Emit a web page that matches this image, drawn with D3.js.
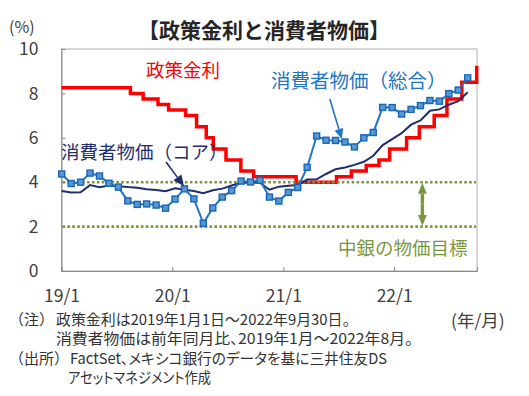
<!DOCTYPE html>
<html>
<head>
<meta charset="utf-8">
<script src="https://cdn.jsdelivr.net/npm/d3@7"></script>
<style>
  body { margin: 0; background: #fff; }
  svg { font-family: "Noto Sans CJK JP", "Noto Sans", sans-serif; }
  .palt { font-feature-settings: "palt"; }
</style>
</head>
<body>
<div class="container"></div>
<script>
// monthly CPI (YoY %), Jan 2019 - Aug 2022
const months = [
  '2019-01', '2019-02', '2019-03', '2019-04', '2019-05', '2019-06', '2019-07', '2019-08', '2019-09', '2019-10', '2019-11', '2019-12',
  '2020-01', '2020-02', '2020-03', '2020-04', '2020-05', '2020-06', '2020-07', '2020-08', '2020-09', '2020-10', '2020-11', '2020-12',
  '2021-01', '2021-02', '2021-03', '2021-04', '2021-05', '2021-06', '2021-07', '2021-08', '2021-09', '2021-10', '2021-11', '2021-12',
  '2022-01', '2022-02', '2022-03', '2022-04', '2022-05', '2022-06', '2022-07', '2022-08'
]
const cpiTotal = [
  4.37, 3.94, 4.00, 4.41, 4.28, 3.95, 3.78, 3.16, 3.00, 3.02, 2.97, 2.83,
  3.24, 3.70, 3.25, 2.15, 2.84, 3.33, 3.62, 4.05, 4.01, 4.09, 3.33, 3.15,
  3.54, 3.76, 4.67, 6.08, 5.89, 5.88, 5.81, 5.59, 6.00, 6.24, 7.37, 7.36,
  7.07, 7.28, 7.45, 7.68, 7.65, 7.99, 8.15, 8.70
]
const cpiCore = [
  3.60, 3.54, 3.55, 3.87, 3.77, 3.85, 3.82, 3.78, 3.75, 3.68, 3.65, 3.59,
  3.73, 3.66, 3.60, 3.50, 3.64, 3.71, 3.85, 3.97, 3.99, 3.98, 3.66, 3.80,
  3.84, 3.87, 4.12, 4.13, 4.37, 4.58, 4.66, 4.78, 4.92, 5.19, 5.67, 5.94,
  6.21, 6.59, 6.78, 7.22, 7.28, 7.49, 7.65, 8.05
]

// policy rate changes (effective date, %), through 2022-09-30
const rateDates = [
  '2019-01-01', '2019-08-16', '2019-09-27', '2019-11-15', '2019-12-20', '2020-02-14',
  '2020-03-21', '2020-04-22', '2020-05-15', '2020-06-26', '2020-08-14', '2020-09-25',
  '2021-02-12', '2021-06-25', '2021-08-13', '2021-10-01', '2021-11-12', '2021-12-17',
  '2022-02-11', '2022-03-25', '2022-05-13', '2022-06-24', '2022-08-12', '2022-09-30'
]
const rateValues = [
  8.25, 8.00, 7.75, 7.50, 7.25, 7.00,
  6.50, 6.00, 5.50, 5.00, 4.50, 4.25,
  4.00, 4.25, 4.50, 4.75, 5.00, 5.50,
  6.00, 6.50, 7.00, 7.75, 8.50, 9.25
]

const targetBand = [2, 4]
const yTicks = [0, 2, 4, 6, 8, 10]
const xTickDates = ['2019-01-01', '2020-01-01', '2021-01-01', '2022-01-01']

const w = 529
const h = 396
const padLeft = 61.5
const padRight = 477
const padTop = 49
const padBottom = 271

const parse = d3.timeParse('%Y-%m-%d')

const svg = d3.select('.container')
  .append('svg')
  .attr('width', w)
  .attr('height', h)

const x = d3.scaleTime()
  .domain([parse('2019-01-01'), parse('2022-10-01')])
  .range([padLeft, padRight])

// CPI points are spread evenly by month index
const xi = d3.scaleLinear()
  .domain([0, months.length - 1])
  .range([61.7, 467.7])

const y = d3.scaleLinear()
  .domain([0, 10])
  .range([padBottom, padTop])

// frame
svg.append('rect')
  .attr('x', padLeft)
  .attr('y', padTop)
  .attr('width', padRight - padLeft)
  .attr('height', padBottom - padTop)
  .attr('fill', 'none')
  .attr('stroke', '#b0b0b0')

const yAxis = svg.append('g')
  .attr('transform', `translate(${padLeft},0)`)
  .call(d3.axisLeft(y).tickValues(yTicks).tickSize(-4).tickPadding(23))
yAxis.select('.domain').attr('stroke', '#888')
yAxis.selectAll('line').attr('stroke', '#888')
yAxis.selectAll('text')
  .attr('font-size', 17.5)
  .attr('fill', '#404040')
  .attr('font-family', '"Noto Sans CJK JP", sans-serif')

const xAxis = svg.append('g')
  .attr('transform', `translate(0,${padBottom})`)
  .call(d3.axisBottom(x)
    .tickValues(xTickDates.map(parse))
    .tickFormat(d3.timeFormat('%y/%-m'))
    .tickSize(-4)
    .tickPadding(19))
xAxis.select('.domain').attr('stroke', '#888')
xAxis.selectAll('line').attr('stroke', '#888')
xAxis.selectAll('text')
  .attr('font-size', 17.5)
  .attr('fill', '#404040')
  .attr('font-family', '"Noto Sans CJK JP", sans-serif')

// policy rate
const rateLine = d3.line()
  .x((d, i) => x(parse(rateDates[i])))
  .y(d => y(d))
  .curve(d3.curveStepAfter)

svg.append('path')
  .datum(rateValues)
  .attr('d', rateLine)
  .attr('fill', 'none')
  .attr('stroke', '#ff0000')
  .attr('stroke-width', 3.5)

// central bank target band
svg.selectAll('.band')
  .data(targetBand)
  .enter()
  .append('line')
  .attr('class', 'band')
  .attr('x1', padLeft + 1)
  .attr('x2', padRight - 1)
  .attr('y1', d => y(d))
  .attr('y2', d => y(d))
  .attr('stroke', '#7a963e')
  .attr('stroke-width', 2.6)
  .attr('stroke-dasharray', '2.6 2.3')

// core CPI
svg.append('path')
  .datum(cpiCore)
  .attr('d', d3.line().x((d, i) => xi(i)).y(d => y(d)))
  .attr('fill', 'none')
  .attr('stroke', '#1f2d6b')
  .attr('stroke-width', 2)

// headline CPI
svg.append('path')
  .datum(cpiTotal)
  .attr('d', d3.line().x((d, i) => xi(i)).y(d => y(d)))
  .attr('fill', 'none')
  .attr('stroke', '#2374c2')
  .attr('stroke-width', 2)

svg.selectAll('.mk')
  .data(cpiTotal)
  .enter()
  .append('rect')
  .attr('class', 'mk')
  .attr('x', (d, i) => xi(i) - 3)
  .attr('y', d => y(d) - 3)
  .attr('width', 6)
  .attr('height', 6)
  .attr('fill', '#5797d6')
  .attr('stroke', '#1766b4')
  .attr('stroke-width', 1.4)

// arrows
function arrow(x1, y1, x2, y2, color, width, headLen, headHalf) {
  const a = Math.atan2(y2 - y1, x2 - x1)
  const bx = x2 - headLen * Math.cos(a)
  const by = y2 - headLen * Math.sin(a)
  svg.append('line')
    .attr('x1', x1).attr('y1', y1)
    .attr('x2', bx).attr('y2', by)
    .attr('stroke', color)
    .attr('stroke-width', width)
  const px = -Math.sin(a) * headHalf
  const py = Math.cos(a) * headHalf
  svg.append('path')
    .attr('d', `M${x2},${y2}L${bx + px},${by + py}L${bx - px},${by - py}Z`)
    .attr('fill', color)
}

arrow(xi(11.05), y(4.91), xi(12.95), y(3.82), '#1f2d6b', 1.6, 11, 5)
arrow(xi(28.4), y(7.75), xi(29.66), y(5.95), '#2374c2', 1.6, 10, 4.5)

const gx = x(parse('2022-04-04'))
arrow(gx, y(3), gx, y(targetBand[1]) + 0.5, '#7a963e', 3.4, 11, 4.4)
arrow(gx, y(3), gx, y(targetBand[0]) - 0.5, '#7a963e', 3.4, 11, 4.4)

// series labels
const label = (t, lx, ly, color, size) => svg.append('text')
  .text(t)
  .attr('x', lx)
  .attr('y', ly)
  .attr('font-size', size)
  .attr('fill', color)

label('政策金利', 146, 77, '#ff0000', 18.5)
label('消費者物価（総合）', 271, 88, '#2374c2', 19.5)
label('消費者物価（コア）', 61, 159, '#1f2d6b', 18.5)
label('中銀の物価目標', 338, 255, '#7a963e', 18.5)

// title and units
svg.append('text')
  .text('【政策金利と消費者物価】')
  .attr('x', 264)
  .attr('y', 38)
  .attr('text-anchor', 'middle')
  .attr('font-size', 21)
  .attr('font-weight', 'bold')
  .attr('fill', '#262626')

svg.append('text')
  .text('(%)')
  .attr('x', 9)
  .attr('y', 33)
  .attr('font-size', 16)
  .attr('fill', '#404040')

svg.append('text')
  .text('(年/月)')
  .attr('x', 451)
  .attr('y', 327)
  .attr('font-size', 17.5)
  .attr('fill', '#404040')

// notes: text, x, baseline, target width
const notes = [
  ['（注）', 9, 325, 0],
  ['政策金利は2019年1月1日～2022年9月30日。', 56, 325, 294],
  ['消費者物価は前年同月比、2019年1月～2022年8月。', 56, 344, 357],
  ['（出所）', 9, 364, 0],
  ['FactSet、メキシコ銀行のデータを基に三井住友DS', 70, 364, 317],
  ['アセットマネジメント作成', 68, 383, 143]
]
notes.forEach(([t, nx, ny, len]) => {
  const el = svg.append('text')
    .text(t)
    .attr('x', nx)
    .attr('y', ny)
    .attr('font-size', 15)
    .attr('fill', '#333')
  if (len) {
    el.attr('class', 'palt')
      .attr('textLength', len)
      .attr('lengthAdjust', 'spacingAndGlyphs')
  }
})
</script>
</body>
</html>
